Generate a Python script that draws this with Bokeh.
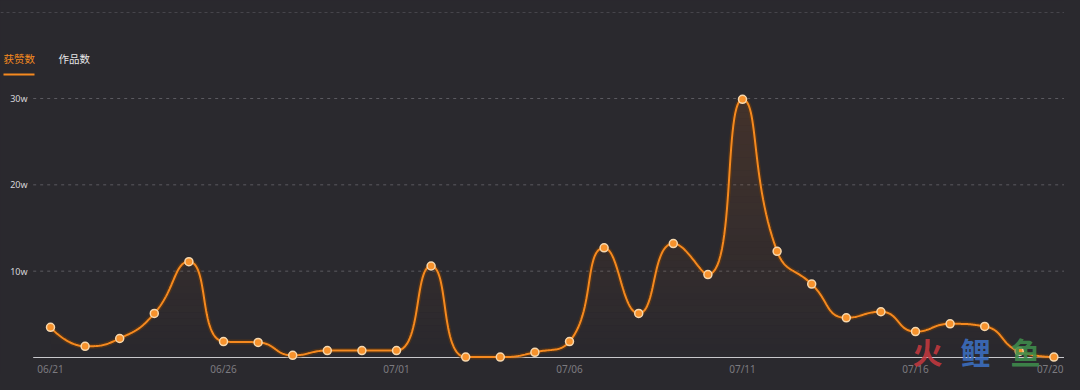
import numpy as np
from bokeh.plotting import figure
from bokeh.core.properties import value
from bokeh.embed import file_html
from bokeh.resources import INLINE

# ---------------- data ----------------
dates = ["06/21", "06/22", "06/23", "06/24", "06/25", "06/26", "06/27", "06/28", "06/29", "06/30",
         "07/01", "07/02", "07/03", "07/04", "07/05", "07/06", "07/07", "07/08", "07/09", "07/10",
         "07/11", "07/12", "07/13", "07/14", "07/15", "07/16", "07/17", "07/18", "07/19", "07/20"]
likes_w = [3.5, 1.3, 2.2, 5.1, 11.1, 1.85, 1.75, 0.25, 0.8, 0.8,
           0.8, 10.6, 0.05, 0.05, 0.6, 1.85, 12.7, 5.1, 13.2, 9.6,
           29.9, 12.3, 8.5, 4.6, 5.3, 3.0, 3.9, 3.6, 0.7, 0.05]
x_tick_idx = [0, 5, 10, 15, 20, 25, 29]
y_ticks = [10, 20, 30]
y_tick_labels = ["10w", "20w", "30w"]
tabs = ["获赞数", "作品数"]
watermark = ["火", "鲤", "鱼"]

# ---------------- layout helpers ----------------
W, H = 1064, 374
PX_DAY = 34.6
PX_W = 259 / 30.0
BG = "#2a292e"
ORANGE = "#f5891f"


def px2x(px):
    return (px - 50) / PX_DAY


def py2y(py):
    return (357 - py) / PX_W


x_lo, x_hi = px2x(0), px2x(W)
y_lo, y_hi = py2y(H), py2y(0)

p = figure(width=W, height=H, output_backend="svg", toolbar_location=None,
           x_range=(x_lo, x_hi), y_range=(y_lo, y_hi),
           min_border_left=0, min_border_right=0, min_border_top=0, min_border_bottom=0)
p.background_fill_color = BG
p.border_fill_color = BG
p.outline_line_color = None
p.grid.visible = False
p.xaxis.visible = False
p.yaxis.visible = False

# top separator
p.segment(x0=[x_lo], x1=[x_hi], y0=[py2y(12)], y1=[py2y(12)],
          line_color="#46454b", line_width=1, line_dash="3 3")

# grid lines
p.segment(x0=[-0.5] * 3, x1=[x_hi] * 3, y0=y_ticks, y1=y_ticks,
          line_color="#5b5a60", line_width=1, line_dash="3 4")

# y tick labels
p.text(x=[px2x(27)] * 3, y=y_ticks, text=y_tick_labels, text_align="right",
       text_baseline="middle", text_color="#d6d6d8", text_font_size="9px",
       text_font=value("Noto Sans"))

# x tick labels (last one right-aligned so it stays inside the canvas)
xl_x = [float(i) for i in x_tick_idx]
xl_x[-1] = px2x(1063)
p.text(x=xl_x, y=[py2y(368)] * len(x_tick_idx), text=[dates[i] for i in x_tick_idx],
       text_align=["center"] * (len(x_tick_idx) - 1) + ["right"], text_baseline="middle",
       text_color="#7c7b80", text_font_size="10px", text_font=value("Noto Sans"))

# tabs
p.text(x=[px2x(3), px2x(58)], y=[py2y(58)] * 2, text=tabs, text_align="left",
       text_baseline="middle", text_color=[ORANGE, "#e6e6e8"], text_font_size="10.5px",
       text_font=value("Noto Sans CJK SC"))
p.segment(x0=[px2x(3)], x1=[px2x(34)], y0=[py2y(74)], y1=[py2y(74)],
          line_color=ORANGE, line_width=2)


# ---------------- smooth curve (echarts-like bezier smoothing) ----------------
def smooth_curve(xs, ys, smooth=0.5, steps=30):
    n = len(xs)
    out_x, out_y = [xs[0]], [ys[0]]
    c0x, c0y = xs[0], ys[0]
    for k in range(1, n):
        x, y = xs[k], ys[k]
        px, py = xs[k - 1], ys[k - 1]
        if k >= n - 1:
            c1x, c1y = x, y
            ncx, ncy = x, y
        else:
            nx, ny = xs[k + 1], ys[k + 1]
            vx, vy = nx - px, ny - py
            l0 = np.hypot(x - px, y - py)
            l1 = np.hypot(nx - x, ny - y)
            r = l1 / (l0 + l1)
            ncx = x + vx * smooth * r
            ncy = y + vy * smooth * r
            ncx = max(min(ncx, max(nx, x)), min(nx, x))
            ncy = max(min(ncy, max(ny, y)), min(ny, y))
            vx, vy = ncx - x, ncy - y
            c1x = x - vx * l0 / l1
            c1y = y - vy * l0 / l1
            c1x = max(min(c1x, max(px, x)), min(px, x))
            c1y = max(min(c1y, max(py, y)), min(py, y))
            vx, vy = x - c1x, y - c1y
            ncx = x + vx * l1 / l0
            ncy = y + vy * l1 / l0
        t = np.linspace(0, 1, steps)[1:]
        a = (1 - t) ** 3
        b = 3 * (1 - t) ** 2 * t
        c = 3 * (1 - t) * t ** 2
        d = t ** 3
        out_x.extend(a * px + b * c0x + c * c1x + d * x)
        out_y.extend(a * py + b * c0y + c * c1y + d * y)
        c0x, c0y = ncx, ncy
    return np.array(out_x), np.array(out_y)


idx = np.arange(len(likes_w))
vals = np.array(likes_w)
sx, sy = smooth_curve(idx * PX_DAY, vals * PX_W)
cx, cy = sx / PX_DAY, sy / PX_W

# gradient area fill (stacked bands)
top = max(likes_w)
nb = 40
for k in range(nb):
    lo = top * k / nb
    hi = top * (k + 1) / nb
    a = 0.12 * ((k + 0.5) / nb)
    p.varea(x=cx, y1=np.minimum(cy, lo), y2=np.minimum(cy, hi),
            fill_color="#ff7a1a", fill_alpha=a)

# baseline
p.segment(x0=[-0.5], x1=[px2x(1071)], y0=[0], y1=[0], line_color="#c8c8cc", line_width=1)

# line with shadow
p.line(cx, cy, line_color="#6a3a0c", line_width=5, line_alpha=0.55)
p.line(cx, cy, line_color=ORANGE, line_width=2)

# points
p.scatter(idx, likes_w, size=8, fill_color="#f7922c", line_color="#f6d7ad", line_width=1.5)

# watermark (sized to stay inside the canvas)
wm_colors = ["#c4383e", "#3c6fc2", "#3f8d4c"]
wm_px = [912, 960, 1010]
p.text(x=[px2x(v) for v in wm_px], y=[py2y(372)] * 3, text=watermark,
       text_color=wm_colors, text_alpha=0.9, text_font_size="30px",
       text_font_style="bold", text_font=value("Noto Sans CJK SC"),
       text_baseline="bottom", text_align="left")

html = file_html(p, INLINE)
html = html.replace("<body>", '<body style="background:#2a292e">')
open("out.html", "w").write(html)
